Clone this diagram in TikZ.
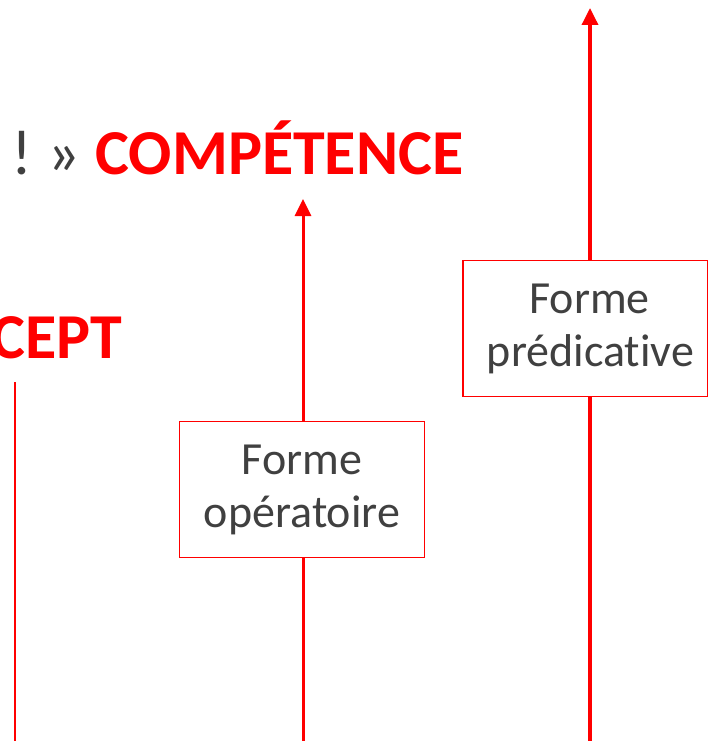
\documentclass[tikz,border=0pt]{standalone}
\usepackage{fontspec}
\setmainfont[Ligatures={NoCommon,NoRare,NoContextual}]{Carlito}
\usepackage{xcolor}
\usepackage{tikz}
\usetikzlibrary{arrows.meta}
\definecolor{vif}{HTML}{FF0000}
\definecolor{gris}{HTML}{404040}

\begin{document}
\begin{tikzpicture}[x=1pt,y=-1pt,
	forme/.style={draw=vif, line width=1.8pt, fill=white, text=gris, align=center,
		minimum width=245pt, minimum height=136pt, inner sep=0pt,
		font=\fontsize{46}{53}\selectfont},
	titre/.style={anchor=base west, inner sep=0pt, font=\fontsize{64}{70}\selectfont},
	fleche/.style={draw=vif, line width=3pt, -{Triangle[length=17pt,width=16pt]}}]
\useasboundingbox (0,0) rectangle (708,741);
\clip (0,0) rectangle (708,741);

% textes en haut
\node[titre, text=gris] (comp) at (11,174) {! \kern-4pt» \kern-4pt\textbf{\textcolor{vif}{COMPÉTENCE}}};
\node[titre, text=vif] (conc) at (-9,358) {\textbf{CEPT}};

% boites
\node[forme] (oper) at (302,489.5) {Forme\\opératoire};
\node[forme] (pred) at (585.5,328.5) {\hspace*{8pt}Forme\\\hspace*{10pt}prédicative};

% extremites
\coordinate (basg) at (15,741);
\coordinate (hautg) at (15,382);
\coordinate (basm) at (303,741);
\coordinate (pointem) at (303,199);
\coordinate (basd) at (590,741);
\coordinate (pointed) at (590,8);

\draw [draw=vif, line width=2pt] (basg) -- (hautg);
\draw [draw=vif, line width=3pt] (basm) -- (oper.south -| basm);
\draw [fleche] (oper.north -| basm) -- (pointem);
\draw [draw=vif, line width=3.5pt] (basd) -- (pred.south -| basd);
\draw [fleche, line width=3.5pt] (pred.north -| basd) -- (pointed);
\end{tikzpicture}
\end{document}
